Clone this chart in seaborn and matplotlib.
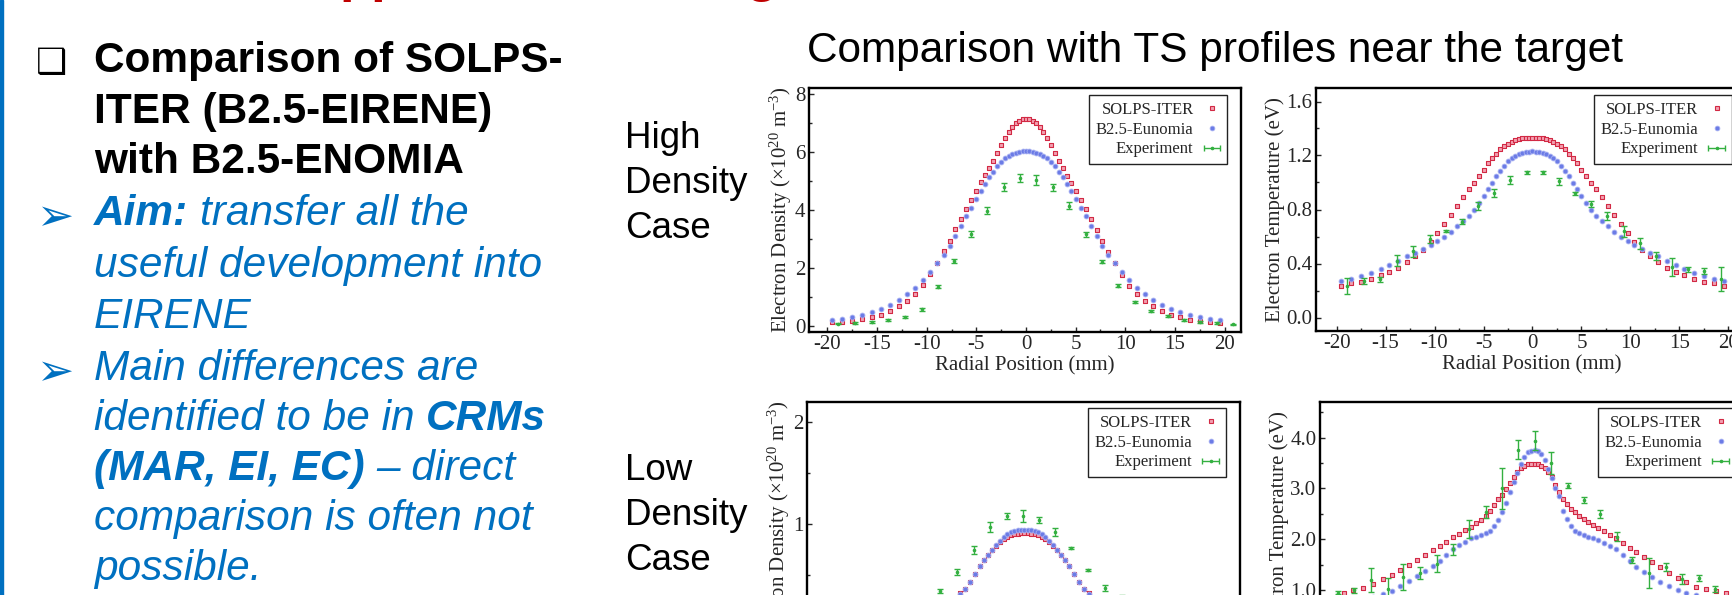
import matplotlib
matplotlib.use("Agg")
import matplotlib.pyplot as plt
from matplotlib.lines import Line2D
from matplotlib.patches import Rectangle
from matplotlib.ticker import MultipleLocator, FormatStrFormatter
import numpy as np
import seaborn as sns

# ---- data ----
radial_mm = [-19.5, -18.5, -17.5, -16.5, -15.5, -14.6, -13.7, -12.8, -12.0, -11.2, -10.4, -9.7,
             -9.0, -8.3, -7.7, -7.1, -6.5, -6.0, -5.5, -5.0, -4.5, -4.1, -3.7, -3.3, -2.9, -2.5,
             -2.1, -1.75, -1.4, -1.05, -0.7, -0.35, 0.0, 0.35, 0.7, 1.05, 1.4, 1.75, 2.1, 2.5,
             2.9, 3.3, 3.7, 4.1, 4.5, 5.0, 5.5, 6.0, 6.5, 7.1, 7.7, 8.3, 9.0, 9.7, 10.4, 11.2,
             12.0, 12.8, 13.7, 14.6, 15.5, 16.5, 17.5, 18.5, 19.5]

# high density case
ne_solps_high = [0.13, 0.16, 0.19, 0.24, 0.31, 0.40, 0.52, 0.69, 0.88, 1.11, 1.41, 1.78, 2.18, 2.58,
                 2.95, 3.33, 3.70, 4.03, 4.36, 4.66, 4.95, 5.19, 5.44, 5.70, 5.97, 6.24, 6.49, 6.69,
                 6.87, 6.99, 7.07, 7.12, 7.14, 7.12, 7.07, 6.99, 6.87, 6.69, 6.48, 6.23, 5.96, 5.69,
                 5.43, 5.18, 4.94, 4.64, 4.34, 4.02, 3.69, 3.32, 2.94, 2.57, 2.17, 1.77, 1.40, 1.10,
                 0.87, 0.68, 0.51, 0.39, 0.30, 0.23, 0.18, 0.15, 0.12]
ne_eunomia_high = [0.20, 0.25, 0.30, 0.38, 0.48, 0.60, 0.74, 0.90, 1.10, 1.33, 1.60, 1.86, 2.16, 2.45,
                   2.76, 3.10, 3.46, 3.78, 4.08, 4.38, 4.66, 4.90, 5.12, 5.32, 5.50, 5.66, 5.78, 5.86,
                   5.92, 5.97, 6.00, 6.02, 6.03, 6.02, 6.00, 5.97, 5.92, 5.86, 5.78, 5.66, 5.50, 5.32,
                   5.12, 4.90, 4.66, 4.38, 4.08, 3.78, 3.46, 3.10, 2.76, 2.45, 2.16, 1.86, 1.60, 1.33,
                   1.10, 0.90, 0.74, 0.60, 0.48, 0.38, 0.30, 0.25, 0.20]
te_solps_high = [0.234, 0.254, 0.266, 0.288, 0.313, 0.340, 0.370, 0.410, 0.455, 0.500, 0.560, 0.625,
                 0.693, 0.762, 0.825, 0.890, 0.953, 0.998, 1.050, 1.095, 1.145, 1.178, 1.213, 1.245,
                 1.268, 1.288, 1.303, 1.316, 1.323, 1.328, 1.331, 1.332, 1.332, 1.332, 1.331, 1.328,
                 1.323, 1.316, 1.303, 1.288, 1.268, 1.245, 1.213, 1.178, 1.145, 1.095, 1.050, 0.998,
                 0.953, 0.890, 0.825, 0.762, 0.693, 0.625, 0.560, 0.500, 0.455, 0.410, 0.370, 0.340,
                 0.313, 0.288, 0.266, 0.254, 0.234]
te_eunomia_high = [0.271, 0.288, 0.308, 0.332, 0.357, 0.386, 0.418, 0.452, 0.480, 0.510, 0.540, 0.570,
                   0.600, 0.635, 0.675, 0.715, 0.755, 0.800, 0.850, 0.900, 0.955, 1.000, 1.045, 1.085,
                   1.120, 1.160, 1.185, 1.200, 1.212, 1.222, 1.226, 1.229, 1.231, 1.229, 1.226, 1.222,
                   1.212, 1.200, 1.185, 1.160, 1.120, 1.085, 1.045, 1.000, 0.955, 0.900, 0.850, 0.800,
                   0.755, 0.715, 0.675, 0.635, 0.600, 0.570, 0.540, 0.510, 0.480, 0.452, 0.418, 0.386,
                   0.357, 0.332, 0.308, 0.288, 0.271]
exp_x_high = [-18.9, -17.2, -15.55, -13.85, -12.15, -10.5, -8.85, -7.2, -5.55, -3.9, -2.25, -0.6,
              1.05, 2.7, 4.35, 6.0, 7.65, 9.3, 10.95, 12.6, 14.25, 15.9, 17.55, 19.2, 20.85]
ne_exp_high = [0.09, 0.11, 0.15, 0.21, 0.32, 0.59, 1.36, 2.24, 3.17, 3.98, 4.79, 5.11, 5.03, 4.78,
               4.15, 3.16, 2.22, 1.39, 0.84, 0.53, 0.34, 0.22, 0.15, 0.11, 0.06]
ne_err_high = [0.03, 0.03, 0.03, 0.04, 0.04, 0.05, 0.06, 0.08, 0.11, 0.12, 0.14, 0.14, 0.16, 0.13,
               0.11, 0.09, 0.06, 0.05, 0.04, 0.04, 0.04, 0.03, 0.03, 0.03, 0.03]
te_exp_high = [0.234, 0.27, 0.283, 0.42, 0.49, 0.58, 0.64, 0.71, 0.825, 0.92, 1.02, 1.075, 1.075,
               1.01, 0.92, 0.84, 0.75, 0.64, 0.55, 0.455, 0.374, 0.357, 0.345, 0.283, 0.25]
te_err_high = [0.06, 0.02, 0.02, 0.04, 0.04, 0.03, 0.01, 0.02, 0.03, 0.03, 0.03, 0.012, 0.012,
               0.025, 0.012, 0.025, 0.03, 0.04, 0.04, 0.03, 0.07, 0.02, 0.02, 0.09, 0.05]

# low density case
ne_solps_low = [0.015, 0.017, 0.019, 0.022, 0.027, 0.033, 0.040, 0.050, 0.060, 0.075, 0.095, 0.120,
                0.150, 0.185, 0.225, 0.270, 0.320, 0.365, 0.430, 0.510, 0.590, 0.650, 0.700, 0.740,
                0.780, 0.820, 0.855, 0.873, 0.890, 0.900, 0.906, 0.910, 0.910, 0.910, 0.906, 0.900,
                0.890, 0.873, 0.855, 0.820, 0.780, 0.740, 0.700, 0.650, 0.590, 0.510, 0.430, 0.365,
                0.320, 0.270, 0.225, 0.185, 0.150, 0.120, 0.095, 0.075, 0.060, 0.050, 0.040, 0.033,
                0.027, 0.022, 0.019, 0.017, 0.015]
ne_eunomia_low = [0.014, 0.016, 0.018, 0.021, 0.025, 0.030, 0.037, 0.046, 0.056, 0.070, 0.088, 0.110,
                  0.140, 0.175, 0.215, 0.260, 0.310, 0.360, 0.430, 0.510, 0.590, 0.648, 0.700, 0.745,
                  0.790, 0.835, 0.872, 0.900, 0.920, 0.932, 0.940, 0.945, 0.945, 0.945, 0.940, 0.932,
                  0.920, 0.900, 0.872, 0.835, 0.790, 0.745, 0.700, 0.648, 0.590, 0.510, 0.430, 0.360,
                  0.310, 0.260, 0.215, 0.175, 0.140, 0.110, 0.088, 0.070, 0.056, 0.046, 0.037, 0.030,
                  0.025, 0.021, 0.018, 0.016, 0.014]
te_solps_low = [0.95, 1.00, 1.05, 1.12, 1.21, 1.30, 1.40, 1.50, 1.59, 1.69, 1.78, 1.86, 1.95, 2.04,
                2.11, 2.18, 2.25, 2.31, 2.37, 2.46, 2.56, 2.68, 2.79, 2.88, 2.98, 3.11, 3.23, 3.32,
                3.40, 3.45, 3.475, 3.49, 3.49, 3.48, 3.45, 3.40, 3.33, 3.23, 3.07, 2.93, 2.80, 2.70,
                2.60, 2.53, 2.46, 2.39, 2.33, 2.28, 2.23, 2.16, 2.09, 2.02, 1.92, 1.83, 1.74, 1.65,
                1.55, 1.45, 1.34, 1.24, 1.15, 1.07, 1.02, 0.98, 0.94]
te_eunomia_low = [0.73, 0.77, 0.81, 0.86, 0.92, 0.99, 1.08, 1.17, 1.27, 1.37, 1.48, 1.58, 1.70, 1.81,
                  1.88, 1.95, 2.02, 2.05, 2.08, 2.12, 2.16, 2.26, 2.38, 2.54, 2.72, 2.93, 3.12, 3.30,
                  3.48, 3.62, 3.71, 3.74, 3.75, 3.73, 3.68, 3.56, 3.38, 3.20, 3.00, 2.85, 2.55, 2.40,
                  2.26, 2.17, 2.12, 2.08, 2.05, 2.02, 1.98, 1.93, 1.87, 1.80, 1.70, 1.57, 1.46, 1.35,
                  1.26, 1.16, 1.08, 1.00, 0.95, 0.90, 0.85, 0.80, 0.76]
exp_x_low_ne = [-11.75, -10.1, -8.45, -6.8, -5.1, -3.5, -1.8, -0.15, 1.5, 3.1, 4.7, 6.4, 8.1, 9.75, 11.4]
ne_exp_low = [0.12, 0.20, 0.338, 0.525, 0.748, 0.974, 1.075, 1.08, 1.043, 0.925, 0.76, 0.55, 0.37, 0.28, 0.17]
ne_err_low = [0.02, 0.02, 0.02, 0.03, 0.04, 0.05, 0.03, 0.06, 0.03, 0.04, 0.01, 0.01, 0.03, 0.02, 0.02]
exp_x_low_te = [-20.1, -18.4, -16.7, -15.0, -13.4, -11.7, -10.0, -8.3, -6.7, -5.0, -3.33, -1.67, 0.0,
                1.67, 3.37, 5.03, 6.7, 8.37, 10.0, 11.7, 13.4, 15.1, 16.8, 18.4]
te_exp_low = [0.95, 1.0, 1.2, 1.03, 1.26, 1.34, 1.52, 1.8, 2.2, 2.54, 3.0, 3.76, 3.94, 3.5, 3.05,
              2.77, 2.5, 2.05, 1.6, 1.34, 1.45, 1.21, 1.23, 1.03]
te_err_low = [0.03, 0.05, 0.24, 0.2, 0.25, 0.12, 0.17, 0.1, 0.18, 0.12, 0.4, 0.19, 0.19, 0.22, 0.05,
              0.06, 0.08, 0.09, 0.06, 0.3, 0.08, 0.1, 0.06, 0.06]

series_labels = ["SOLPS-ITER", "B2.5-Eunomia", "Experiment"]
ne_label = "Electron Density (\u00d710$^{20}$ m$^{-3}$)"
te_label = "Electron Temperature (eV)"

bold_lines = ["Comparison of SOLPS-", "ITER (B2.5-EIRENE)", "with B2.5-ENOMIA"]
blue_lines = [
    [("Aim:", "bold"), ("transfer all the", "normal")],
    [("useful development into", "normal")],
    [("EIRENE", "normal")],
    [("Main differences are", "normal")],
    [("identified to be in", "normal"), ("CRMs", "bold")],
    [("(MAR, EI, EC)", "bold"), ("\u2013 direct", "normal")],
    [("comparison is often not", "normal")],
    [("possible.", "normal")],
]

# ---- style ----
sns.set_style("ticks")
plt.rcParams["font.family"] = ["Liberation Serif", "DejaVu Serif"]
plt.rcParams["mathtext.fontset"] = "custom"
plt.rcParams["mathtext.rm"] = "Liberation Serif"
plt.rcParams["mathtext.it"] = "Liberation Serif:italic"
plt.rcParams["axes.unicode_minus"] = False

W, H = 1733, 595
RED_E, RED_F = "#d22944", "#f2a1b1"
BLUE_F, BLUE_E = "#6b7be6", "#a3adf1"
GREEN = "#33b040"
SLIDE_BLUE = "#0070c0"

fig = plt.figure(figsize=(W / 100, H / 100), dpi=100)
fig.patch.set_facecolor("white")


def px_axes(left, top, width, height):
    return fig.add_axes([left / W, 1 - (top + height) / H, width / W, height / H])


def profile_panel(ax, solps, eunomia, ex, ey, eerr, xlim, ylim, major, minor, fmt, ylabel, xlabel, leg_anchor):
    sns.scatterplot(x=radial_mm, y=solps, marker="s", s=12, color=RED_F, edgecolor=RED_E,
                    linewidth=0.8, ax=ax, zorder=3)
    sns.scatterplot(x=radial_mm, y=eunomia, marker="o", s=12, color=BLUE_F, edgecolor=BLUE_E,
                    linewidth=0.6, ax=ax, zorder=4)
    ax.errorbar(ex, ey, yerr=eerr, fmt="o", ms=1.6, color=GREEN, ecolor=GREEN,
                elinewidth=1.0, capsize=2.2, capthick=1.0, zorder=5)
    ax.set_xlim(*xlim)
    ax.set_ylim(*ylim)
    ax.xaxis.set_major_locator(MultipleLocator(5))
    ax.xaxis.set_minor_locator(MultipleLocator(2.5))
    ax.yaxis.set_major_locator(MultipleLocator(major))
    ax.yaxis.set_minor_locator(MultipleLocator(minor))
    ax.yaxis.set_major_formatter(FormatStrFormatter(fmt))
    ax.tick_params(which="both", direction="in", width=1.0, labelsize=15, pad=2.5)
    ax.tick_params(which="major", length=3.6)
    ax.tick_params(which="minor", length=2.2)
    for sp in ax.spines.values():
        sp.set_visible(True)
        sp.set_linewidth(1.7)
        sp.set_color("black")
    ax.set_ylabel(ylabel, fontsize=15, labelpad=1)
    ax.set_xlabel(xlabel, fontsize=15, labelpad=1)

    handles = [
        Line2D([], [], ls="none", marker="s", ms=3.4, mfc=RED_F, mec=RED_E, mew=0.8),
        Line2D([], [], ls="none", marker="o", ms=3.4, mfc=BLUE_F, mec=BLUE_E, mew=0.6),
        ax.errorbar([np.nan], [np.nan], xerr=[1.0], fmt="o", ms=1.6, color=GREEN,
                    elinewidth=1.0, capsize=2.2, capthick=1.0),
    ]
    leg = ax.legend(handles, series_labels, loc="upper right", bbox_to_anchor=leg_anchor,
                    borderaxespad=0, markerfirst=False, frameon=True, fancybox=False,
                    edgecolor="#222222", framealpha=1, fontsize=12, handlelength=1.0,
                    handletextpad=0.6, labelspacing=0.22, borderpad=0.42)
    leg.get_frame().set_linewidth(1.0)


ax_tl = px_axes(809, 88, 432, 244)
profile_panel(ax_tl, ne_solps_high, ne_eunomia_high, exp_x_high, ne_exp_high, ne_err_high,
              (-21.85, 21.65), (-0.2, 8.2), 2, 1, "%d", ne_label, "Radial Position (mm)", (0.968, 0.971))

ax_tr = px_axes(1316, 88, 432, 243)
profile_panel(ax_tr, te_solps_high, te_eunomia_high, exp_x_high, te_exp_high, te_err_high,
              (-22.1, 22.0), (-0.1, 1.7), 0.4, 0.2, "%.1f", te_label, "Radial Position (mm)", (0.963, 0.971))

ax_bl = px_axes(807, 402, 433, 244)
profile_panel(ax_bl, ne_solps_low, ne_eunomia_low, exp_x_low_ne, ne_exp_low, ne_err_low,
              (-21.85, 21.65), (-0.2, 2.2), 1, 0.5, "%d", ne_label, "Radial Position (mm)", (0.968, 0.975))

ax_br = px_axes(1320, 402, 432, 244)
profile_panel(ax_br, te_solps_low, te_eunomia_low, exp_x_low_te, te_exp_low, te_err_low,
              (-21.9, 22.2), (-0.1, 4.7), 1.0, 0.5, "%.1f", te_label, "Radial Position (mm)", (0.963, 0.975))

# ---- slide text ----
fig.patches.append(Rectangle((0, 0), 3 / W, 1, transform=fig.transFigure, color=SLIDE_BLUE, zorder=10))

SANS = ["Liberation Sans", "DejaVu Sans"]
FS = 30.5
space_px = 0.278 * FS * 100 / 72
renderer = fig.canvas.get_renderer()

# cut-off red slide title (only descenders remain in view)
fig.text(340 / W, 1 + 9 / H, "pp", fontsize=38, fontweight="bold", color="#c00000",
         family=SANS, va="baseline")
fig.text(746 / W, 1 + 9 / H, "g", fontsize=38, fontweight="bold", color="#c00000",
         family=SANS, va="baseline")

baselines = [72, 123, 173, 225, 277, 328, 380, 430, 480, 530, 580]
x0 = 94

fig.text(36 / W, 1 - 73 / H, "\u2751", fontsize=25, color="black", family=["DejaVu Sans"], va="baseline")
for line, yb in zip(bold_lines, baselines[:3]):
    fig.text(x0 / W, 1 - yb / H, line, fontsize=FS, fontweight="bold", color="black",
             family=SANS, va="baseline")

for i, (segs, yb) in enumerate(zip(blue_lines, baselines[3:])):
    if i in (0, 3):
        fig.text(36 / W, 1 - (yb - 12) / H, "\u27a2", fontsize=32, color=SLIDE_BLUE,
                 family=["DejaVu Sans"], va="center_baseline")
    x = x0
    for j, (txt, weight) in enumerate(segs):
        if j > 0:
            x += space_px
        t = fig.text(x / W, 1 - yb / H, txt, fontsize=FS, fontweight=weight, fontstyle="italic",
                     color=SLIDE_BLUE, family=SANS, va="baseline")
        x += t.get_window_extent(renderer).width

fig.text(807 / W, 1 - 62 / H, "Comparison with TS profiles near the target", fontsize=FS,
         color="black", family=SANS, va="baseline")

for word, yb in zip(["High", "Density", "Case"], [148, 193, 238]):
    fig.text(625 / W, 1 - yb / H, word, fontsize=26.5, color="black", family=SANS, va="baseline")
for word, yb in zip(["Low", "Density", "Case"], [480, 525, 570]):
    fig.text(625 / W, 1 - yb / H, word, fontsize=26.5, color="black", family=SANS, va="baseline")

fig.savefig("out.png", dpi=100)
plt.close(fig)
